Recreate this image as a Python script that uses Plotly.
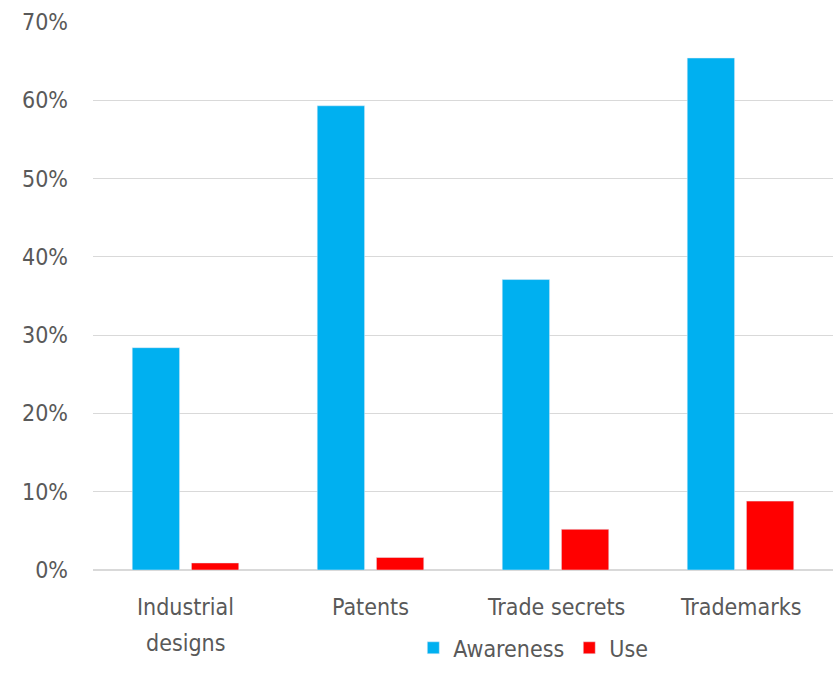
import plotly.graph_objects as go

categories = ["Industrial designs", "Patents", "Trade secrets", "Trademarks"]
label_lines = [["Industrial", "designs"], ["Patents"], ["Trade secrets"], ["Trademarks"]]
awareness = [28.4, 59.3, 37.1, 65.4]
use = [0.9, 1.6, 5.2, 8.8]
y_ticks = [0, 10, 20, 30, 40, 50, 60, 70]
y_tick_text = [f"{v}%" for v in y_ticks]

FONT = "DejaVu Sans Condensed, sans-serif"
GRAY = "#595959"

fig = go.Figure()
fig.add_trace(go.Bar(name="Awareness", x=categories, y=awareness, marker_color="#00B0F0"))
fig.add_trace(go.Bar(name="Use", x=categories, y=use, marker_color="#FF0000"))

line_y = [-0.0675, -0.133]
for cat, lines in zip(categories, label_lines):
    for i, ln in enumerate(lines):
        fig.add_annotation(x=cat, xref="x", y=line_y[i], yref="paper", text=ln,
                           showarrow=False, yanchor="middle", xanchor="center",
                           font=dict(family=FONT, size=23, color=GRAY))

fig.update_layout(
    width=833, height=687,
    margin=dict(l=93, r=0, t=22, b=117),
    paper_bgcolor="white", plot_bgcolor="white",
    barmode="group", bargap=0.36, bargroupgap=0.2,
    font=dict(family=FONT, color=GRAY, size=23),
    showlegend=True,
    legend=dict(orientation="h", x=0.595, xanchor="center", y=-0.142, yanchor="middle",
                font=dict(size=23, color=GRAY), itemwidth=30, tracegroupgap=0),
    xaxis=dict(showgrid=False, showline=False, ticks="", showticklabels=False),
    yaxis=dict(range=[0, 70], tickvals=y_ticks, ticktext=y_tick_text, showgrid=True,
               gridcolor="#d9d9d9", gridwidth=1, zeroline=True, zerolinecolor="#d9d9d9",
               showline=False, tickfont=dict(size=23, color=GRAY), ticklabelstandoff=24),
)

fig.write_html("out.html")
